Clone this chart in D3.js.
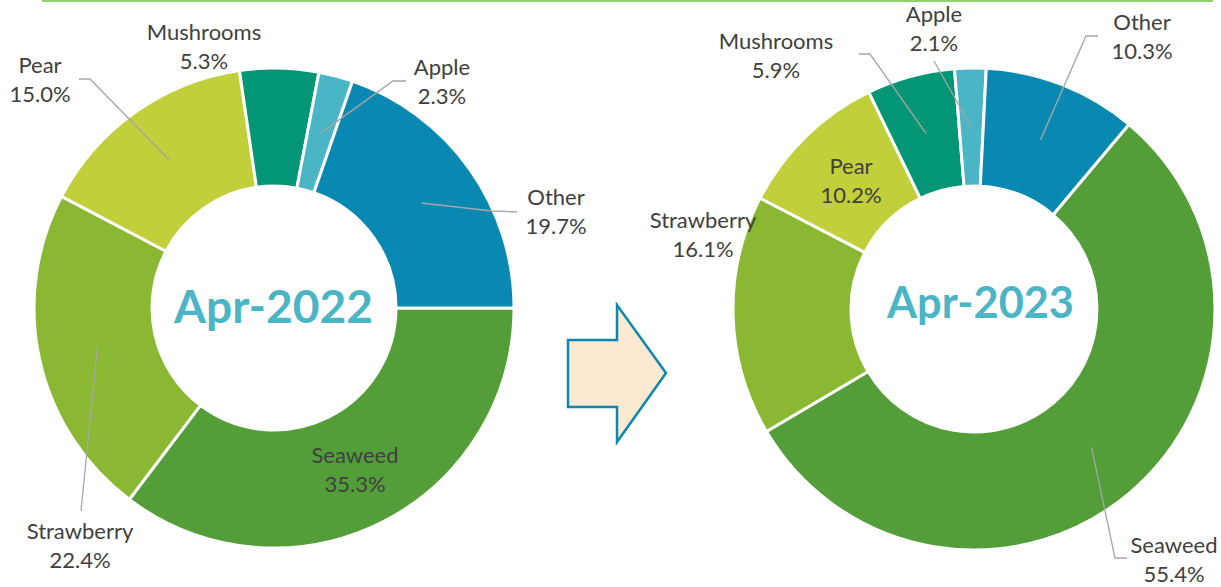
<!DOCTYPE html>
<html>
<head>
<meta charset="utf-8">
<script src="https://cdn.jsdelivr.net/npm/d3@7"></script>
<style>
  html, body { margin: 0; padding: 0; background: #ffffff; }
  svg { display: block; }
  text { font-family: "Lato", "Open Sans", sans-serif; }
</style>
</head>
<body>
<svg id="chart" width="1221" height="587"></svg>
<script>
// ---------------- data ----------------
const categories = ["Seaweed", "Strawberry", "Pear", "Mushrooms", "Apple", "Other"];
const values2022 = [35.3, 22.4, 15.0, 5.3, 2.3, 19.7];
const values2023 = [55.4, 16.1, 10.2, 5.9, 2.1, 10.3];
const periodTitles = ["Apr-2022", "Apr-2023"];
const sliceColors = ["#549E39", "#8AB833", "#C0CF3A", "#029676", "#4AB5C4", "#0989B1"];

// ---------------- layout ----------------
const svg = d3.select("#chart");
const rad = d => d * Math.PI / 180;

// top rule
svg.append("line")
  .attr("x1", 42).attr("x2", 1213).attr("y1", 1).attr("y2", 1)
  .attr("stroke", "#8ED16F").attr("stroke-width", 2);

// label placement (text block centre) and leader knee per slice, per chart
const charts = [
  {
    values: values2022, title: periodTitles[0],
    cx: 274, cy: 308, rOuter: 240, rInner: 122, start: 90,
    titleX: 273.5, titleY: 323, titleW: 199,
    labels: {
      "Seaweed":    { x: 355, y: 470, line: false },
      "Strawberry": { x: 80,  y: 546, line: true, knee: null, from: [81, 511] },
      "Pear":       { x: 40,  y: 80,  line: true, knee: [90, 79], from: [79, 79] },
      "Mushrooms":  { x: 204, y: 47,  line: false },
      "Apple":      { x: 442, y: 82,  line: true, knee: [393, 81], from: [406, 81] },
      "Other":      { x: 556, y: 212, line: true, knee: [492, 211], from: [517, 212] }
    }
  },
  {
    values: values2023, title: periodTitles[1],
    cx: 974, cy: 309, rOuter: 241, rInner: 123, start: 40,
    titleX: 980.5, titleY: 318, titleW: 187,
    labels: {
      "Seaweed":    { x: 1174, y: 560, line: true, knee: [1115, 558], from: [1127, 558] },
      "Strawberry": { x: 703,  y: 235, line: false },
      "Pear":       { x: 851,  y: 181, line: false },
      "Mushrooms":  { x: 776,  y: 56,  line: true, knee: [870, 54], from: [859, 54] },
      "Apple":      { x: 934,  y: 29,  line: true, knee: null, from: [934, 61] },
      "Other":      { x: 1142, y: 37,  line: true, knee: [1086, 36], from: [1098, 36] }
    }
  }
];

const color = d3.scaleOrdinal().domain(categories).range(sliceColors);
const fmt = d3.format(".1f");

charts.forEach(ch => {
  const pie = d3.pie().sort(null).value(d => d.value)
    .startAngle(rad(ch.start)).endAngle(rad(ch.start + 360));
  const data = categories.map((c, i) => ({ cat: c, value: ch.values[i] }));
  const arcs = pie(data);
  const arc = d3.arc().innerRadius(ch.rInner).outerRadius(ch.rOuter);
  const rMid = (ch.rInner + ch.rOuter) / 2;
  const centroidArc = d3.arc().innerRadius(rMid).outerRadius(rMid);

  const g = svg.append("g").attr("transform", `translate(${ch.cx},${ch.cy})`);
  g.selectAll("path.slice").data(arcs).enter().append("path")
    .attr("class", "slice")
    .attr("d", arc)
    .attr("fill", d => color(d.data.cat))
    .attr("stroke", "#ffffff")
    .attr("stroke-width", 3)
    .attr("stroke-linejoin", "miter");

  // leader lines
  arcs.forEach(a => {
    const L = ch.labels[a.data.cat];
    if (!L.line) return;
    const c = centroidArc.centroid(a);
    const pts = [[L.from[0], L.from[1]]];
    if (L.knee) pts.push(L.knee);
    pts.push([ch.cx + c[0], ch.cy + c[1]]);
    svg.append("path")
      .attr("d", d3.line()(pts))
      .attr("fill", "none")
      .attr("stroke", "#A6A6A6")
      .attr("stroke-width", 1.3);
  });

  // labels
  arcs.forEach(a => {
    const L = ch.labels[a.data.cat];
    const t = svg.append("text")
      .attr("text-anchor", "middle")
      .attr("fill", "#404040")
      .attr("font-size", 22);
    t.append("tspan").attr("x", L.x).attr("y", L.y - 7).text(a.data.cat);
    t.append("tspan").attr("x", L.x).attr("y", L.y + 22).text(fmt(a.data.value) + "%");
  });

  // centre title, fitted to reference width
  const tt = svg.append("text")
    .attr("x", ch.titleX).attr("y", ch.titleY)
    .attr("text-anchor", "middle")
    .attr("fill", "#4AB5C4")
    .attr("font-weight", 700)
    .attr("font-size", 50)
    .text(ch.title);
  const w = tt.node().getComputedTextLength();
  tt.attr("font-size", 50 * ch.titleW / w);
});

// transition arrow
const arrowPts = [[568, 340], [617, 340], [617, 305], [666, 373], [617, 442], [617, 407], [568, 407]];
svg.append("path")
  .attr("d", d3.line()(arrowPts) + "Z")
  .attr("fill", "#FBE9D2")
  .attr("stroke", "#0989B1")
  .attr("stroke-width", 2.5)
  .attr("stroke-linejoin", "miter");
</script>
</body>
</html>
